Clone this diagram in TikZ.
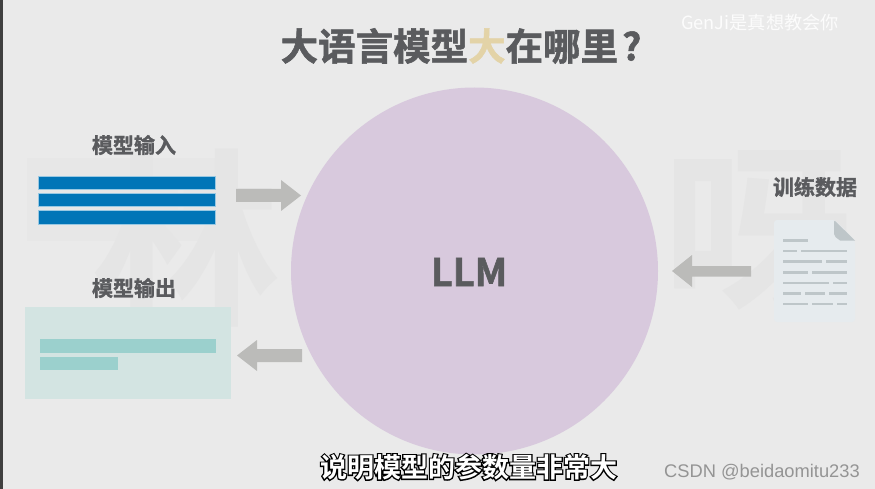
\documentclass[tikz,border=0pt]{standalone}
\usepackage{fontspec}
\setmainfont{Noto Sans CJK SC}[BoldFont={Noto Sans CJK SC Bold}]
\newfontfamily\latinf{Liberation Sans}
\newfontfamily\outlinef{Noto Sans CJK SC Bold}[FakeBold=9]
\newfontfamily\heavyf{Noto Sans CJK SC Bold}[FakeBold=1.5]
\definecolor{bgc}{HTML}{EAEAEA}
\definecolor{wmc}{HTML}{E5E5E5}
\definecolor{txt}{HTML}{5A5B5E}
\definecolor{circ}{HTML}{D8C9DD}
\definecolor{arrowc}{HTML}{BBBBB9}
\definecolor{bluec}{HTML}{0175B7}
\definecolor{tealbg}{HTML}{D2E4E2}
\definecolor{tealbar}{HTML}{9BD0CD}
\definecolor{docc}{HTML}{E6EBEE}
\definecolor{docl}{HTML}{BEC6C9}
\definecolor{tanc}{HTML}{E3D3A7}
\tikzset{
  lbl/.style={font=\heavyf\fontsize{21}{21}\selectfont,text=txt,inner sep=0pt},
  bar/.style={fill=bluec,draw=white!60!bluec,line width=0.7pt},
  tbar/.style={fill=tealbar,draw=none},
  fatarrow/.style={fill=arrowc,draw=none},
  docline/.style={draw=docl,line width=2.6pt},
  wm/.style={font=\bfseries\fontsize{190}{190}\selectfont,text=wmc,inner sep=0pt},
  sub/.style={font=\bfseries\fontsize{27}{27}\selectfont,inner sep=0pt}
}
\newcommand{\subtext}{说明模型的参数量非常大}
\begin{document}
\begin{tikzpicture}[x=1pt,y=-1pt]
\useasboundingbox (0,0) rectangle (875,489);
\fill[bgc] (0,0) rectangle (875,489);
\fill[black!75] (0,0) rectangle (3,489);
% watermark
\fill[wmc!60!bgc] (27,158) rectangle (230,241);
\node[wm] (wma) at (186,238) {林};
\node[wm] (wmb) at (757,236) {呀};
% circle
\node[circle,fill=circ,minimum size=367pt,inner sep=0pt] (llm) at (474.5,271) {};
\node[font=\heavyf\fontsize{38}{38}\selectfont,text=txt,inner sep=0pt] (llmt) at (469,272) {LLM};
% title
\node[font=\heavyf\fontsize{37.5}{37.5}\selectfont,text=txt,inner sep=0pt] (title) at (461,46) {大语言模型\textcolor{tanc}{大}在哪里\hspace{4pt}?};
% watermark top right
\node[font=\fontsize{18.2}{18.2}\selectfont,text=white!85!bgc,inner sep=0pt] (gj) at (760,23) {GenJi是真想教会你};
% input
\node[lbl] (inl) at (134,145) {模型输入};
\fill[bar] (38,176) rectangle (215,189);
\fill[bar] (38,193) rectangle (215,206.5);
\fill[bar] (38,210.5) rectangle (215,224);
% output
\node[lbl] (outl) at (134,288) {模型输出};
\fill[tealbg,opacity=.93] (25,307) rectangle (231,399);
\fill[tbar] (39.5,339) rectangle (216,352.5);
\fill[tbar] (39.5,357) rectangle (118,370);
% arrows
\fill[fatarrow] (236,189) -- (281,189) -- (281,180) -- (301,195.5) -- (281,211) -- (281,202) -- (236,202) -- cycle;
\fill[fatarrow] (302,349) -- (257,349) -- (257,340) -- (237,355.5) -- (257,371) -- (257,362) -- (302,362) -- cycle;
\fill[fatarrow] (751,266) -- (692,266) -- (692,255) -- (672,271) -- (692,287) -- (692,276.5) -- (751,276.5) -- cycle;
% training
\node[lbl] (trl) at (815,187) {训练数据};
\fill[docc,rounded corners=3pt] (774,220) -- (835,220) -- (855,240.5) -- (855,322) -- (774,322) -- cycle;
\fill[docl] (834,220) -- (855,240.5) -- (840,240.5) [rounded corners=2pt] -- (834,236) -- cycle;
\draw[docline] (783,240.7) -- (808,240.7);
\draw[docline] (783,251) -- (797,251) (801,251) -- (847,251);
\draw[docline] (783,261.7) -- (822,261.7) (826,261.7) -- (847,261.7);
\draw[docline] (783,272.3) -- (808,272.3) (812,272.3) -- (847,272.3);
\draw[docline] (783,283) -- (829,283) (833,283) -- (847,283);
\draw[docline] (783,293.7) -- (801,293.7) (805,293.7) -- (825,293.7) (829,293.7) -- (847,293.7);
\draw[docline] (783,304) -- (808,304) (812,304) -- (833,304) (837,304) -- (847,304);
% subtitle
\node[sub,text=black,font=\outlinef\fontsize{27}{27}\selectfont] (s1) at (468.5,467) {\subtext};
\node[sub,text=white] (s2) at (468.5,467) {\subtext};
% csdn
\node[font=\latinf\fontsize{18.3}{18.3}\selectfont,text=black!42,inner sep=0pt] (csdn) at (762,472) {CSDN @beidaomitu233};
\end{tikzpicture}
\end{document}
